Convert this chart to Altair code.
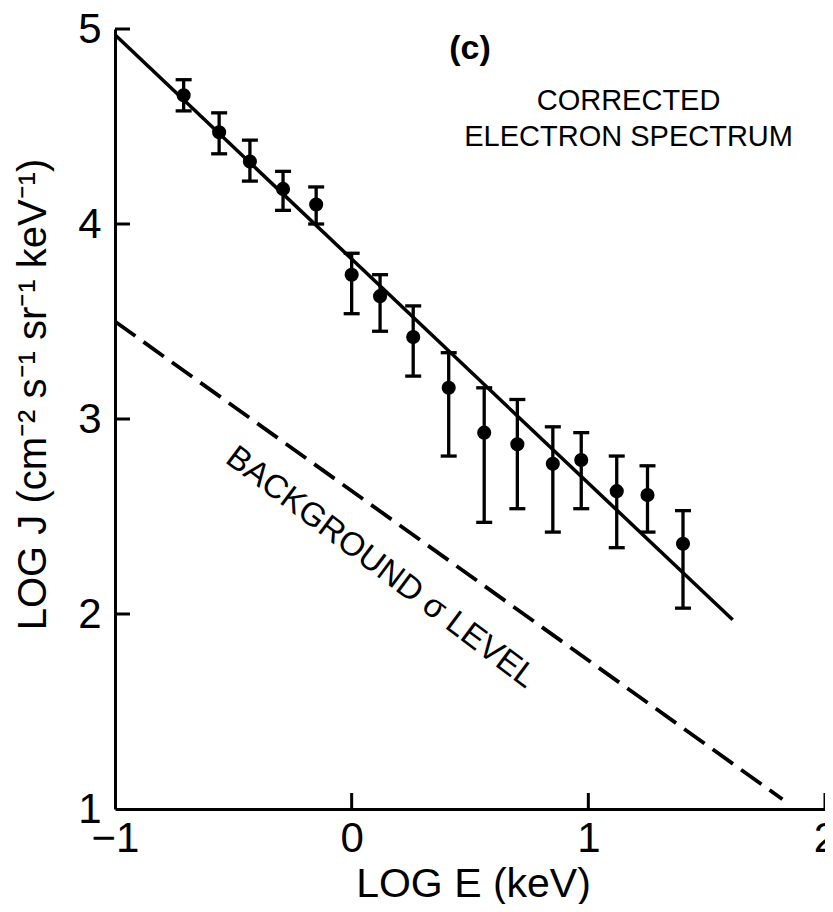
import altair as alt
import pandas as pd

# ---- data ----
log_e = [-0.71, -0.56, -0.43, -0.29, -0.15, 0.00, 0.12, 0.26,
         0.41, 0.56, 0.70, 0.85, 0.97, 1.12, 1.25, 1.40]
log_j = [4.66, 4.47, 4.32, 4.18, 4.10, 3.74, 3.63, 3.42,
         3.16, 2.93, 2.87, 2.77, 2.79, 2.63, 2.61, 2.36]
err_hi = [4.74, 4.57, 4.43, 4.27, 4.19, 3.85, 3.74, 3.58,
          3.34, 3.16, 3.10, 2.96, 2.93, 2.81, 2.76, 2.53]
err_lo = [4.58, 4.36, 4.22, 4.07, 4.00, 3.54, 3.45, 3.22,
          2.81, 2.47, 2.54, 2.42, 2.54, 2.34, 2.42, 2.03]

fit_x = [-1.0, 1.61]
fit_y = [4.97, 1.97]
bg_x = [-1.0, 1.82]
bg_y = [3.50, 1.05]

x_ticks = [-1, 0, 1, 2]
y_ticks = [1, 2, 3, 4, 5]
x_inner_ticks = [0, 1, 2]
y_inner_ticks = [2, 3, 4, 5]

label_c = ["(c)"]
label_c_pos = [[0.50, 4.90]]
label_title = ["CORRECTED", "ELECTRON SPECTRUM"]
label_title_pos = [[1.17, 4.63], [1.17, 4.446]]
label_bg = ["BACKGROUND \u03c3 LEVEL"]
label_bg_pos = [[0.124, 2.24]]

FONT = "Liberation Sans"

pts = pd.DataFrame({"x": log_e, "y": log_j, "lo": err_lo, "hi": err_hi})
caps = pd.DataFrame({"x": log_e + log_e, "y": err_lo + err_hi})
fit = pd.DataFrame({"x": fit_x, "y": fit_y})
bg = pd.DataFrame({"x": bg_x, "y": bg_y})
xt = pd.DataFrame({"x": x_inner_ticks})
yt = pd.DataFrame({"y": y_inner_ticks})

xs = alt.Scale(domain=[-1, 2], nice=False, zero=False)
ys = alt.Scale(domain=[1, 5], nice=False, zero=False)

x_axis = alt.Axis(
    title="LOG E (keV)", values=x_ticks, ticks=False, tickSize=0, grid=False,
    domainColor="black", domainWidth=3,
    labelFont=FONT, labelFontSize=42, labelColor="black", labelPadding=42,
    labelBaseline="alphabetic", labelFlush=False, labelOverlap=False,
    titleFont=FONT, titleFontSize=41, titleFontWeight="normal", titleColor="black",
    titleX=358, titleY=87, titleBaseline="alphabetic", titleAlign="center",
)
y_axis = alt.Axis(
    title="LOG J (cm\u207b\u00b2 s\u207b\u00b9 sr\u207b\u00b9 keV\u207b\u00b9)",
    values=y_ticks, ticks=False, tickSize=0, grid=False,
    domainColor="black", domainWidth=3,
    labelFont=FONT, labelFontSize=42, labelColor="black", labelPadding=14,
    labelBaseline="middle", labelOverlap=False, labelFlush=False,
    titleFont=FONT, titleFontSize=40, titleFontWeight="normal", titleColor="black",
    titleX=-70, titleY=365, titleBaseline="alphabetic", titleAlign="center", titleAngle=-90,
)


def X(field):
    return alt.X(field, type="quantitative", scale=xs, axis=x_axis)


def Y(field):
    return alt.Y(field, type="quantitative", scale=ys, axis=y_axis)


fit_line = alt.Chart(fit).mark_line(color="black", strokeWidth=3.5).encode(x=X("x"), y=Y("y"))
bg_line = alt.Chart(bg).mark_line(color="black", strokeWidth=3.8, strokeDash=[25, 10]).encode(
    x=X("x"), y=Y("y"))
bars = alt.Chart(pts).mark_rule(color="black", strokeWidth=3.3).encode(
    x=X("x"), y=Y("lo"), y2="hi")
cap_marks = alt.Chart(caps).mark_tick(orient="horizontal", color="black", size=16,
                                       thickness=3.3, opacity=1).encode(x=X("x"), y=Y("y"))
dots = alt.Chart(pts).mark_circle(color="black", size=200, opacity=1).encode(x=X("x"), y=Y("y"))

xtick_marks = alt.Chart(xt).mark_rule(color="black", strokeWidth=3).encode(
    x=X("x"), y=alt.value(780), y2=alt.value(764))
ytick_marks = alt.Chart(yt).mark_rule(color="black", strokeWidth=3).encode(
    y=Y("y"), x=alt.value(0), x2=alt.value(15))


def text_layer(texts, pos, **kw):
    df = pd.DataFrame({"t": texts, "x": [p[0] for p in pos], "y": [p[1] for p in pos]})
    return alt.Chart(df).mark_text(font=FONT, color="black", align="center",
                                   baseline="middle", **kw).encode(
        x=X("x"), y=Y("y"), text="t:N")


t_c = text_layer(label_c, label_c_pos, fontSize=34, fontWeight="bold")
t_title = text_layer(label_title, label_title_pos, fontSize=29)
t_bg = text_layer(label_bg, label_bg_pos, fontSize=33, angle=37)

chart = alt.layer(
    bg_line, fit_line, bars, cap_marks, dots, xtick_marks, ytick_marks, t_c, t_title, t_bg
).properties(
    width=710, height=780,
    autosize=alt.AutoSizeParams(type="none"),
    padding={"left": 107, "top": 21, "right": 0, "bottom": 95},
    background="white",
).configure_view(stroke=None)

chart.save("out.html", embed_options={"renderer": "svg", "actions": False})
